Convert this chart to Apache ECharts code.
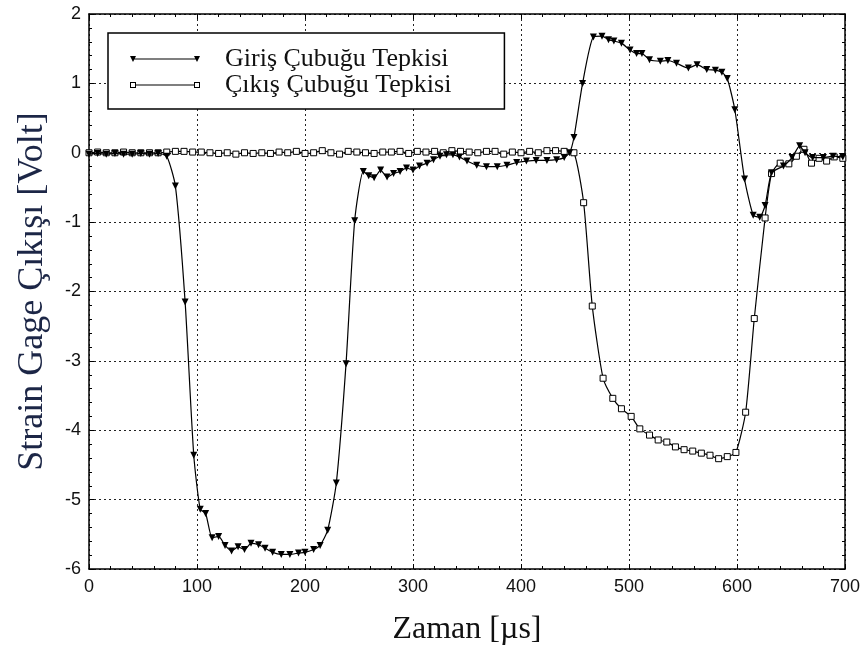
<!DOCTYPE html>
<html>
<head>
<meta charset="utf-8">
<script src="https://cdn.jsdelivr.net/npm/echarts@6/dist/echarts.min.js"></script>
<style>
html,body{margin:0;padding:0;background:#fff;}
#chart{width:868px;height:653px;}
</style>
</head>
<body>
<div id="chart"></div>
<script>
// Series names
const seriesNames = ['Giriş Çubuğu Tepkisi', 'Çıkış Çubuğu Tepkisi'];

// Giriş Çubuğu Tepkisi (input bar) — time [µs] and voltage [V]
const girisTime = [0,8,16,24,32,40,48,56,64,72,80,89,97,103,108,114,120,126,132,138,144,150,157,163,170,178,186,194,200,208,214,221,229,238,246,254,259,264,270,276,282,288,294,300,306,313,319,325,331,337,343,350,359,368,378,387,396,405,414,424,433,440,445,449,457,467,475,481,486,493,501,507,512,519,529,536,544,555,563,572,580,586,591,598,607,615,621,626,632,643,651,658,663,670,680,689,698];
const girisVolt = [-0.02,-0.01,-0.02,-0.01,-0.02,-0.02,-0.01,-0.02,-0.01,-0.05,-0.48,-2.15,-4.36,-5.14,-5.2,-5.55,-5.53,-5.66,-5.74,-5.68,-5.72,-5.63,-5.65,-5.7,-5.76,-5.79,-5.79,-5.77,-5.76,-5.72,-5.66,-5.44,-4.76,-3.04,-0.98,-0.27,-0.33,-0.36,-0.25,-0.35,-0.3,-0.27,-0.22,-0.25,-0.19,-0.15,-0.1,-0.05,-0.03,-0.03,-0.06,-0.12,-0.18,-0.2,-0.2,-0.18,-0.14,-0.12,-0.11,-0.11,-0.1,-0.07,0.0,0.22,1.0,1.67,1.68,1.63,1.61,1.58,1.48,1.43,1.43,1.34,1.32,1.33,1.29,1.22,1.27,1.2,1.19,1.16,1.07,0.62,-0.38,-0.9,-0.93,-0.76,-0.29,-0.19,-0.07,0.1,0.0,-0.07,-0.07,-0.05,-0.06];

// Çıkış Çubuğu Tepkisi (output bar) — time [µs] and voltage [V]
const cikisTime = [0,8,16,24,32,40,48,56,64,72,80,88,96,104,112,120,128,136,144,152,160,168,176,184,192,200,208,216,224,232,240,248,256,264,272,280,288,296,304,312,320,328,336,344,352,360,368,376,384,392,400,408,416,424,432,440,449,458,466,476,485,493,502,510,519,527,535,543,551,559,567,575,583,591,599,608,616,626,632,640,648,655,662,669,676,683,690,698];
const cikisVolt = [0.0,0.01,0.0,0.0,0.01,0.0,0.0,0.0,0.0,0.01,0.02,0.02,0.01,0.01,0.0,-0.01,0.0,-0.02,0.0,-0.01,0.0,-0.01,0.01,0.0,0.02,-0.01,0.0,0.03,0.0,-0.02,0.02,0.01,0.0,-0.01,0.01,0.01,0.02,-0.01,0.02,0.01,0.02,0.0,0.03,0.02,0.01,0.0,0.02,0.02,-0.02,0.01,0.0,0.02,0.0,0.03,0.03,0.02,0.0,-0.72,-2.21,-3.25,-3.54,-3.69,-3.8,-3.98,-4.07,-4.14,-4.17,-4.24,-4.28,-4.3,-4.33,-4.36,-4.41,-4.38,-4.32,-3.74,-2.39,-0.94,-0.3,-0.15,-0.16,-0.05,0.05,-0.15,-0.08,-0.12,-0.06,-0.08];

// Axis ticks
const xTicks = [0,100,200,300,400,500,600,700];
const yTicks = [-6,-5,-4,-3,-2,-1,0,1,2];

const chart = echarts.init(document.getElementById('chart'), null, {renderer:'canvas'});

const gridLine = {show:true, lineStyle:{color:'#222', width:1, type:[2,3]}};
const tickFont = {fontFamily:'Liberation Sans, Arial, sans-serif', fontSize:18, color:'#111'};
const axLine = {show:true, onZero:false, lineStyle:{color:'#000', width:1.5}};
const axTick = {show:true, inside:true, length:5, lineStyle:{color:'#000', width:1}};
const minTick = {show:true, splitNumber:5, length:3, lineStyle:{color:'#000', width:1}};

const triIcon = 'path://M3 3.5 L67 3.5 L67 4.5 L3 4.5 Z M0 1 L6 1 L3 7 Z M64 1 L70 1 L67 7 Z';
const sqIcon = 'path://M6 3.5 L64 3.5 L64 4.5 L6 4.5 Z M0 1 L6 1 L6 7 L0 7 Z M1 2 L1 6 L5 6 L5 2 Z M64 1 L70 1 L70 7 L64 7 Z M65 2 L65 6 L69 6 L69 2 Z';

const option = {
  backgroundColor:'#fff',
  animation:false,
  grid:{left:89, right:23, top:14, bottom:84, containLabel:false},
  legend:{
    orient:'vertical', left:108, top:33,
    backgroundColor:'#fff', borderColor:'#000', borderWidth:1.5,
    padding:[13,53,11,22],
    itemWidth:70, itemHeight:8, itemGap:0,
    textStyle:{fontFamily:'Liberation Serif, Times New Roman, serif', fontSize:26, color:'#111', lineHeight:24, padding:[0,0,0,20]},
    data:[
      {name:seriesNames[0], icon:triIcon, itemStyle:{color:'#000', borderWidth:0}},
      {name:seriesNames[1], icon:sqIcon, itemStyle:{color:'#000', borderWidth:0}}
    ]
  },
  xAxis:[{
    type:'value', min:xTicks[0], max:xTicks[xTicks.length-1], interval:100,
    name:'Zaman [µs]', nameLocation:'middle', nameGap:45,
    nameTextStyle:{fontFamily:'Liberation Serif, Times New Roman, serif', fontSize:32, color:'#111'},
    axisLine:axLine, axisTick:axTick, minorTick:minTick,
    axisLabel:Object.assign({margin:9}, tickFont),
    splitLine:gridLine
  },{
    type:'value', position:'top', min:xTicks[0], max:xTicks[xTicks.length-1], interval:100,
    axisLine:axLine, axisTick:axTick, minorTick:minTick,
    axisLabel:{show:false}, splitLine:{show:false}
  }],
  yAxis:[{
    type:'value', min:yTicks[0], max:yTicks[yTicks.length-1], interval:1,
    name:'Strain Gage Çıkışı [Volt]', nameLocation:'middle', nameGap:38, nameRotate:90,
    nameTextStyle:{fontFamily:'Liberation Serif, Times New Roman, serif', fontSize:36, color:'#1c2646'},
    axisLine:axLine, axisTick:axTick, minorTick:minTick,
    axisLabel:Object.assign({margin:8}, tickFont),
    splitLine:gridLine
  },{
    type:'value', position:'right', min:yTicks[0], max:yTicks[yTicks.length-1], interval:1,
    axisLine:axLine, axisTick:axTick, minorTick:minTick,
    axisLabel:{show:false}, splitLine:{show:false}
  }],
  series:[{
    name:seriesNames[0], type:'line', smooth:0.2,
    data:girisTime.map((t,i)=>[t, girisVolt[i]]),
    symbol:'triangle', symbolRotate:180, symbolSize:7,
    itemStyle:{color:'#000'},
    lineStyle:{color:'#000', width:1.2},
    z:3
  },{
    name:seriesNames[1], type:'line', smooth:0.2,
    data:cikisTime.map((t,i)=>[t, cikisVolt[i]]),
    symbol:'rect', symbolSize:6,
    itemStyle:{color:'#fff', borderColor:'#000', borderWidth:1},
    lineStyle:{color:'#000', width:1.2},
    z:2
  }]
};
chart.setOption(option);
</script>
</body>
</html>
